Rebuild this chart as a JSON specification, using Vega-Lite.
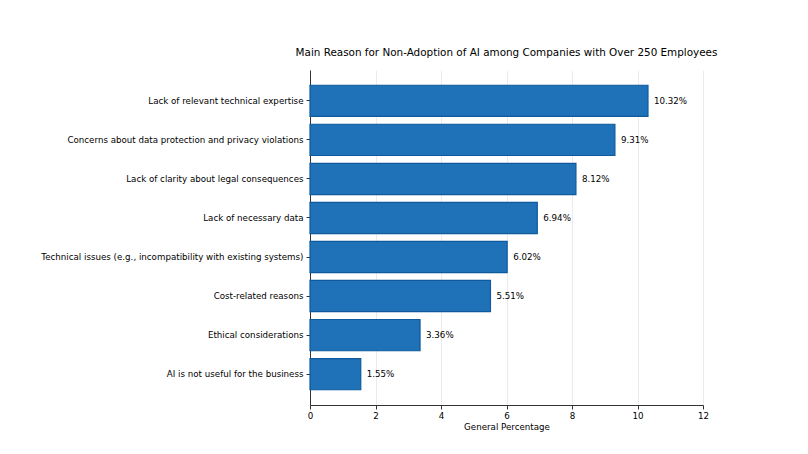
{
  "$schema": "https://vega.github.io/schema/vega-lite/v6.json",
  "width": 393,
  "height": 335,
  "autosize": {"type": "none"},
  "padding": {"left": 310, "top": 70, "right": 105, "bottom": 49},
  "background": "white",
  "title": {
    "text": "Main Reason for Non-Adoption of AI among Companies with Over 250 Employees",
    "anchor": "middle",
    "font": "DejaVu Sans",
    "fontSize": 10.4,
    "fontWeight": "normal",
    "color": "black",
    "offset": 12
  },
  "config": {
    "view": {"stroke": null},
    "axis": {
      "labelFont": "DejaVu Sans",
      "titleFont": "DejaVu Sans",
      "labelColor": "black",
      "titleColor": "black",
      "domainColor": "#333333",
      "tickColor": "#333333",
      "labelFontSize": 8.7,
      "titleFontSize": 8.7,
      "titleFontWeight": "normal",
      "tickSize": 4
    }
  },
  "data": {
    "values": [
      {"reason": "Lack of relevant technical expertise", "pct": 10.32, "label": "10.32%"},
      {"reason": "Concerns about data protection and privacy violations", "pct": 9.31, "label": "9.31%"},
      {"reason": "Lack of clarity about legal consequences", "pct": 8.12, "label": "8.12%"},
      {"reason": "Lack of necessary data", "pct": 6.94, "label": "6.94%"},
      {"reason": "Technical issues (e.g., incompatibility with existing systems)", "pct": 6.02, "label": "6.02%"},
      {"reason": "Cost-related reasons", "pct": 5.51, "label": "5.51%"},
      {"reason": "Ethical considerations", "pct": 3.36, "label": "3.36%"},
      {"reason": "AI is not useful for the business", "pct": 1.55, "label": "1.55%"}
    ]
  },
  "encoding": {
    "y": {
      "field": "reason",
      "type": "nominal",
      "sort": null,
      "scale": {"paddingInner": 0.2, "paddingOuter": 0.39},
      "axis": {"title": null, "labelPadding": 3, "grid": false, "labelLimit": 400}
    },
    "x": {
      "field": "pct",
      "type": "quantitative",
      "scale": {"domain": [0, 12], "nice": false},
      "axis": {
        "title": "General Percentage",
        "values": [0, 2, 4, 6, 8, 10, 12],
        "grid": true,
        "gridColor": "#e6e6e6",
        "gridWidth": 0.8,
        "labelPadding": 2,
        "titlePadding": 3,
        "labelFlush": false
      }
    }
  },
  "layer": [
    {
      "mark": {"type": "bar", "color": "#1f72b8", "stroke": "#0e5a9c", "strokeWidth": 1.2}
    },
    {
      "mark": {"type": "text", "align": "left", "baseline": "middle", "dx": 6, "font": "DejaVu Sans", "fontSize": 8.7, "color": "black"},
      "encoding": {"text": {"field": "label"}}
    }
  ]
}
